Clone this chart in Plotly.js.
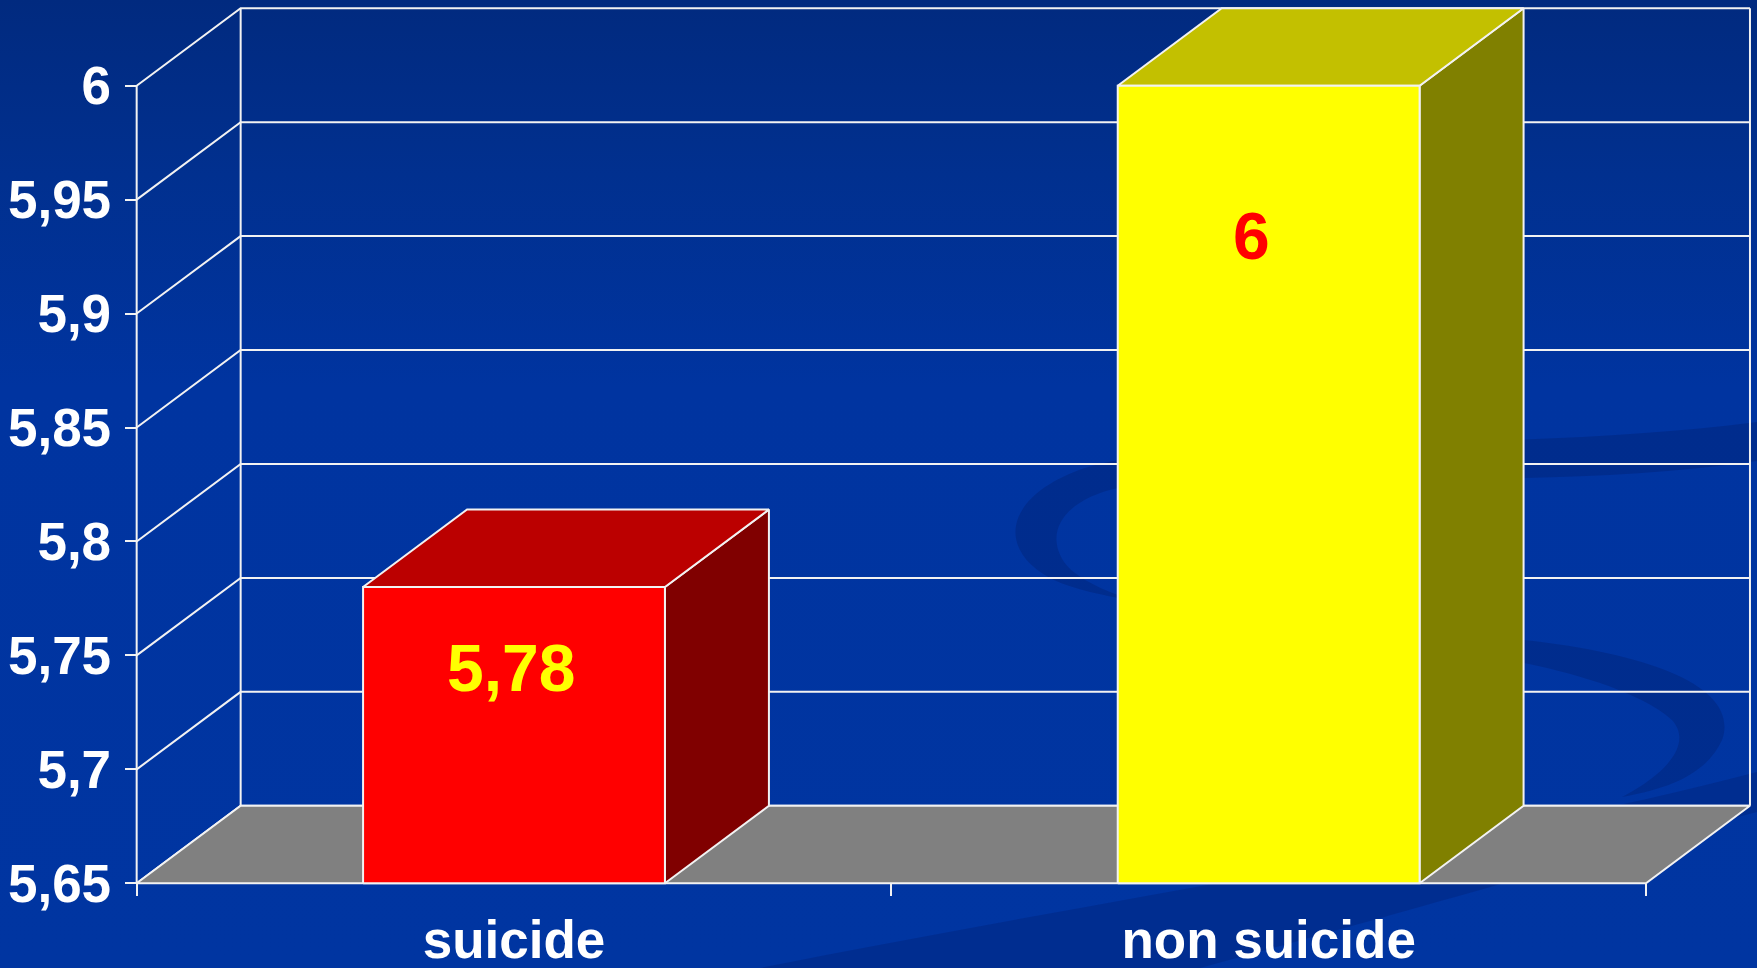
<!DOCTYPE html>
<html>
<head>
<meta charset="utf-8">
<script src="https://cdn.plot.ly/plotly-3.0.1.min.js"></script>
<style>
  html, body { margin: 0; padding: 0; width: 1757px; height: 968px; overflow: hidden; }
  body { background: linear-gradient(to bottom, #012a7f 0%, #01308f 18%, #0034a0 40%, #0035a1 100%); }
  #chart { width: 1757px; height: 968px; }
</style>
</head>
<body>
<div id="chart"></div>
<script>
// ---- data ----
const categories = ['suicide', 'non suicide'];
const values = [5.78, 6];
const valueLabels = ['5,78', '6'];
const tickVals = [5.65, 5.7, 5.75, 5.8, 5.85, 5.9, 5.95, 6];
const tickText = ['5,65', '5,7', '5,75', '5,8', '5,85', '5,9', '5,95', '6'];

// ---- styles ----
const frontColors = ['#FF0000', '#FFFF00'];
const topColors = ['#BB0000', '#C3C000'];
const sideColors = ['#800000', '#808000'];
const labelColors = ['#FFFF00', '#FF0000'];
const labelShift = [[-3, -81], [-17, -150]];   // px offsets of value labels
const W = 1757, H = 968;
const yMin = 5.65, yMax = 6;
const depthX = 0.1378, depthY = 0.034;   // oblique 3D depth in axis units
const halfBar = 0.2;
const lineCol = '#f2f2f2';
const FONT = 'Liberation Sans, Arial, Helvetica, sans-serif';

const xLeft = -0.5, xRight = categories.length - 0.5;
const traces = [];

// gridlines: side wall diagonal + back wall horizontal
const gx = [], gy = [];
tickVals.forEach(v => {
  gx.push(xLeft, xLeft + depthX, xRight + depthX, null);
  gy.push(v, v + depthY, v + depthY, null);
});
traces.push({type: 'scatter', mode: 'lines', x: gx, y: gy, line: {color: lineCol, width: 2}, hoverinfo: 'skip'});

// back wall verticals + front axis line
traces.push({type: 'scatter', mode: 'lines',
  x: [xLeft + depthX, xLeft + depthX, null, xRight + depthX, xRight + depthX, null, xLeft, xLeft],
  y: [yMin + depthY, yMax + depthY, null, yMin + depthY, yMax + depthY, null, yMin, yMax],
  line: {color: lineCol, width: 2}, hoverinfo: 'skip'});

// floor
traces.push({type: 'scatter', mode: 'lines', fill: 'toself', fillcolor: '#808080',
  x: [xLeft, xRight, xRight + depthX, xLeft + depthX, xLeft],
  y: [yMin, yMin, yMin + depthY, yMin + depthY, yMin],
  line: {color: lineCol, width: 2}, hoverinfo: 'skip'});

// bars
values.forEach((v, i) => {
  const x0 = i - halfBar, x1 = i + halfBar;
  traces.push({type: 'scatter', mode: 'lines', fill: 'toself', fillcolor: sideColors[i],
    x: [x1, x1 + depthX, x1 + depthX, x1, x1],
    y: [yMin, yMin + depthY, v + depthY, v, yMin],
    line: {color: lineCol, width: 2}, hoverinfo: 'skip'});
  traces.push({type: 'scatter', mode: 'lines', fill: 'toself', fillcolor: topColors[i],
    x: [x0, x1, x1 + depthX, x0 + depthX, x0],
    y: [v, v, v + depthY, v + depthY, v],
    line: {color: lineCol, width: 2}, hoverinfo: 'skip'});
  traces.push({type: 'scatter', mode: 'lines', fill: 'toself', fillcolor: frontColors[i],
    x: [x0, x1, x1, x0, x0],
    y: [yMin, yMin, v, v, yMin],
    line: {color: lineCol, width: 2}, hoverinfo: 'skip'});
});

// dummy trace for the tick-mark axis
traces.push({type: 'scatter', x: [null], y: [null], xaxis: 'x2', hoverinfo: 'skip', showlegend: false});

const annotations = values.map((v, i) => ({
  x: i, y: v, xref: 'x', yref: 'y', text: valueLabels[i], showarrow: false,
  xanchor: 'center', yanchor: 'middle', xshift: labelShift[i][0], yshift: labelShift[i][1],
  font: {family: FONT, size: 66, color: labelColors[i], weight: 'bold'}
}));

// background swirl decoration (pixel -> paper)
const P = (x, y) => (x / W).toFixed(4) + ',' + (1 - y / H).toFixed(4);
const swirl1 = 'M' + P(1757, 422) + ' C' + P(1500, 455) + ' ' + P(1200, 432) + ' ' + P(1085, 468) +
  ' C' + P(1005, 495) + ' ' + P(995, 548) + ' ' + P(1050, 578) +
  ' C' + P(1110, 610) + ' ' + P(1330, 622) + ' ' + P(1524, 640) +
  ' C' + P(1660, 655) + ' ' + P(1740, 690) + ' ' + P(1722, 740) +
  ' C' + P(1705, 778) + ' ' + P(1660, 790) + ' ' + P(1622, 797) +
  ' C' + P(1670, 772) + ' ' + P(1692, 742) + ' ' + P(1672, 720) +
  ' C' + P(1640, 690) + ' ' + P(1560, 670) + ' ' + P(1524, 663) +
  ' C' + P(1300, 640) + ' ' + P(1100, 612) + ' ' + P(1064, 562) +
  ' C' + P(1042, 528) + ' ' + P(1070, 498) + ' ' + P(1118, 488) +
  ' C' + P(1260, 462) + ' ' + P(1500, 497) + ' ' + P(1757, 461) + ' Z';
const swirl2 = 'M' + P(1757, 772) + ' C' + P(1500, 840) + ' ' + P(1100, 900) + ' ' + P(760, 968) +
  ' L' + P(1200, 968) + ' C' + P(1450, 900) + ' ' + P(1650, 840) + ' ' + P(1757, 812) + ' Z';

const layout = {
  width: W, height: H,
  margin: {l: 0, r: 0, t: 0, b: 0, pad: 0},
  paper_bgcolor: 'rgba(0,0,0,0)', plot_bgcolor: 'rgba(0,0,0,0)',
  showlegend: false, hovermode: false,
  separators: ',.',
  xaxis: {
    domain: [0, 1], range: [-0.6811, 1.6471], anchor: 'free', position: 1 - 883.3 / H,
    tickmode: 'array', tickvals: categories.map((c, i) => i), ticktext: categories,
    ticks: '', showline: false, showgrid: false, zeroline: false, fixedrange: true,
    ticklabelstandoff: 21,
    tickfont: {family: FONT, size: 53, color: '#FFFFFF', weight: 'bold'}
  },
  xaxis2: {
    overlaying: 'x', range: [-0.6811, 1.6471], anchor: 'free', position: 1 - 883.3 / H,
    tickmode: 'array', tickvals: categories.map((c, i) => i - 0.5).concat([xRight]),
    showticklabels: false, ticks: 'outside', ticklen: 12, tickwidth: 2, tickcolor: lineCol,
    showline: false, showgrid: false, zeroline: false, fixedrange: true
  },
  yaxis: {
    domain: [0, 1], range: [5.61283, 6.0376], anchor: 'free', position: 136.7 / W,
    tickmode: 'array', tickvals: tickVals, ticktext: tickText,
    ticks: 'outside', ticklen: 12, tickwidth: 2, tickcolor: lineCol,
    showline: false, showgrid: false, zeroline: false, fixedrange: true,
    ticklabelstandoff: 3,
    tickfont: {family: FONT, size: 53, color: '#FFFFFF', weight: 'bold'}
  },
  annotations: annotations,
  shapes: [
    {type: 'path', xref: 'paper', yref: 'paper', path: swirl1, layer: 'below', fillcolor: 'rgba(0,25,95,0.28)', line: {width: 0}},
    {type: 'path', xref: 'paper', yref: 'paper', path: swirl2, layer: 'below', fillcolor: 'rgba(0,25,95,0.25)', line: {width: 0}}
  ]
};

Plotly.newPlot('chart', traces, layout, {displayModeBar: false, staticPlot: true});
</script>
</body>
</html>
